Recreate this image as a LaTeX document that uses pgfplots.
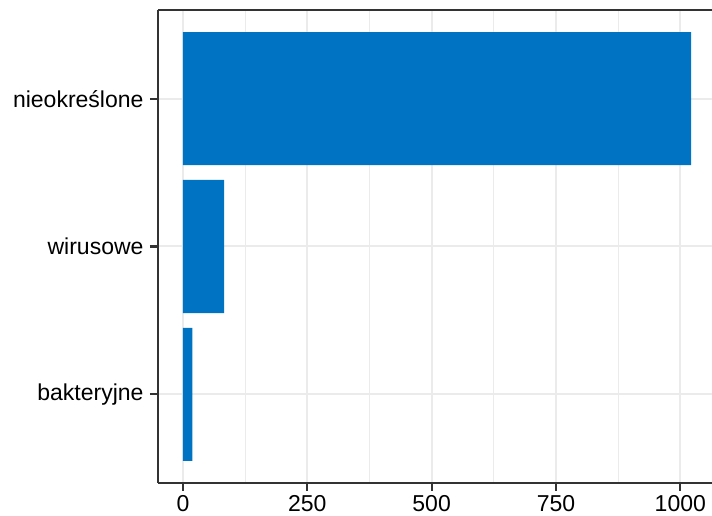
\documentclass[border=0pt]{standalone}
\usepackage{pgfplots}
\pgfplotsset{compat=1.18}
\usepackage{fontspec}
\setmainfont{Liberation Sans}
\definecolor{barblue}{HTML}{0073C2}
\definecolor{axcol}{HTML}{333333}
\definecolor{gridcol}{HTML}{EBEBEB}
\begin{document}
\begin{tikzpicture}
\begin{axis}[at={(0pt,0pt)}, anchor=south west, scale only axis,
  width=554pt, height=473pt,
  xbar, bar width=0.9,
  xmin=-50.2, xmax=1063.7, ymin=0.4, ymax=3.6,
  separate axis lines, axis x line*=box, axis y line*=left,
  axis line style={axcol, line width=2.2pt, -},
  xtick pos=bottom, ytick pos=left,
  tick align=outside, major tick length=8pt, minor tick length=0pt,
  tick style={axcol, line width=2.2pt},
  xtick={0,250,500,750,1000}, minor xtick={125,375,625,875},
  ytick={1,2,3}, yticklabels={bakteryjne,wirusowe,nieokreślone},
  xmajorgrids, xminorgrids, ymajorgrids,
  major grid style={gridcol, line width=2pt},
  minor grid style={gridcol, line width=1pt},
  ticklabel style={font=\fontsize{23}{27}\selectfont, text=black},
  /pgf/number format/assume math mode=true,
  /pgf/number format/1000 sep={},
  xticklabel style={yshift=-1pt},
  yticklabel style={xshift=-3pt},
]
\addplot[fill=barblue, draw=none] coordinates {(18.7,1) (83,2) (1021.5,3)};
\end{axis}
\pgfresetboundingbox
\path (-158pt,-33pt) rectangle (554pt,483pt);
\end{tikzpicture}
\end{document}
